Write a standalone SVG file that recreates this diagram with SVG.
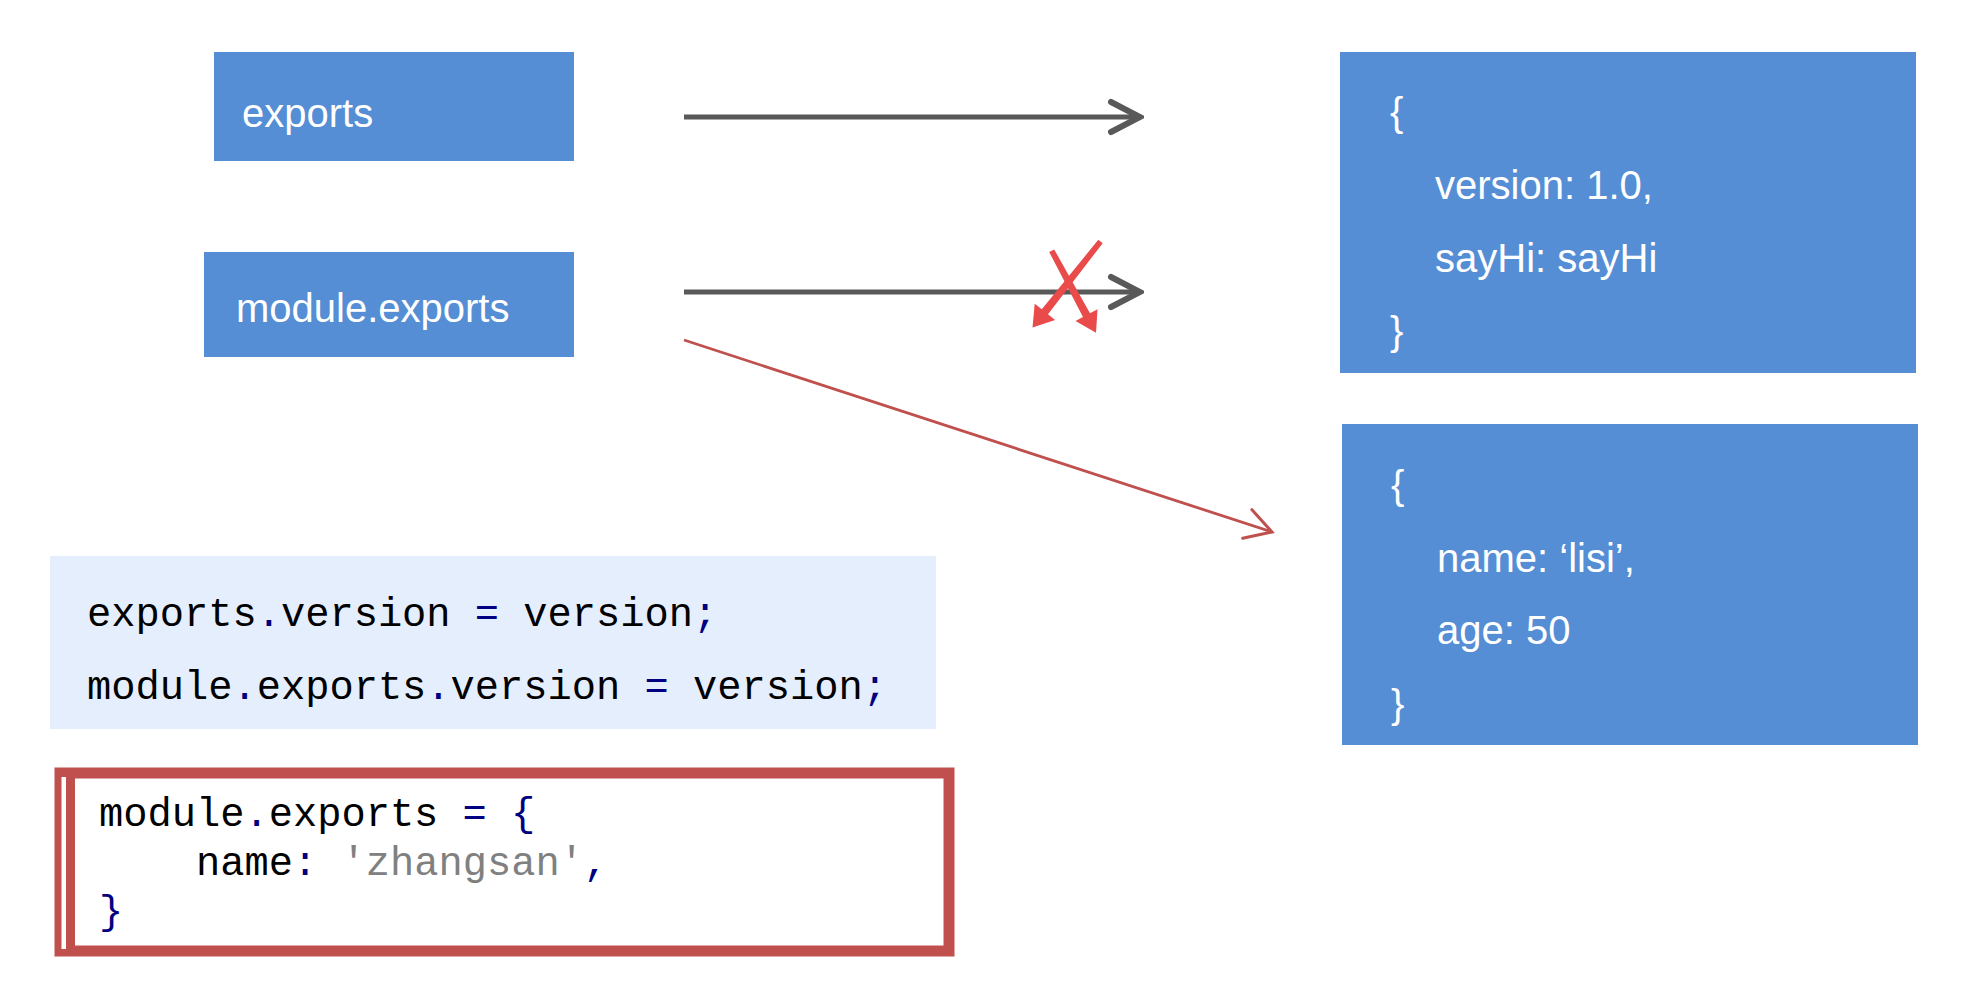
<svg xmlns="http://www.w3.org/2000/svg" width="1986" height="1002" viewBox="0 0 1986 1002">
<style>
.box{fill:#558ED5}
.lbl{font-family:"Liberation Sans",Arial,sans-serif;font-size:40px;fill:#FFFFFF}
.code{font-family:"Liberation Mono","Courier New",monospace;font-size:40.4px;fill:#000000}
.p{fill:#000080}
.s{fill:#808080}
.garrow{stroke:#595959;stroke-width:5;fill:none}
.rarrow{stroke:#C0504D;stroke-width:2.8;fill:none}
.xmark{fill:#E94B4B}
</style>
<defs>
<marker id="gHead" markerUnits="userSpaceOnUse" viewBox="-36 -20 40 40" markerWidth="40" markerHeight="40" refX="0" refY="0" orient="auto">
<path d="M-29,-15 L0,0 L-29,15" fill="none" stroke="#595959" stroke-width="6" stroke-linecap="round" stroke-linejoin="miter"/>
</marker>
<marker id="rHead" markerUnits="userSpaceOnUse" viewBox="-32 -20 36 40" markerWidth="36" markerHeight="40" refX="0" refY="0" orient="auto">
<path d="M-26,-15 L0,0 L-26,15" fill="none" stroke="#C0504D" stroke-width="3" stroke-linecap="round"/>
</marker>
</defs>
<rect width="1986" height="1002" fill="#FFFFFF"/>

<g id="node-exports">
<rect class="box" x="214" y="52" width="360" height="109"/>
<text class="lbl" x="242" y="127">exports</text>
</g>

<g id="node-module-exports">
<rect class="box" x="204" y="252" width="370" height="105"/>
<text class="lbl" x="236" y="322">module.exports</text>
</g>

<g id="node-object-1">
<rect class="box" x="1340" y="52" width="576" height="321"/>
<text class="lbl" x="1390" y="126">{</text>
<text class="lbl" x="1435" y="199">version: 1.0,</text>
<text class="lbl" x="1435" y="272">sayHi: sayHi</text>
<text class="lbl" x="1390" y="345">}</text>
</g>

<g id="node-object-2">
<rect class="box" x="1342" y="424" width="576" height="321"/>
<text class="lbl" x="1391" y="499">{</text>
<text class="lbl" x="1437" y="572">name: ‘lisi’,</text>
<text class="lbl" x="1437" y="644">age: 50</text>
<text class="lbl" x="1391" y="718">}</text>
</g>

<g id="node-code-1">
<rect x="50" y="556" width="886" height="173" fill="#E5EEFC"/>
<text class="code" x="87" y="626">exports<tspan class="p">.</tspan>version <tspan class="p">=</tspan> version<tspan class="p">;</tspan></text>
<text class="code" x="87" y="699">module<tspan class="p">.</tspan>exports<tspan class="p">.</tspan>version <tspan class="p">=</tspan> version<tspan class="p">;</tspan></text>
</g>

<g id="node-code-2">
<rect x="60" y="773" width="889" height="178" fill="#FFFFFF" stroke="#C0504D" stroke-width="11"/>
<rect x="61.5" y="777" width="4.5" height="172" fill="#FFFFFF"/>
<rect x="66" y="773" width="9" height="178" fill="#C0504D"/>
<text class="code" x="99" y="826">module<tspan class="p">.</tspan>exports <tspan class="p">=</tspan> <tspan class="p">{</tspan></text>
<text class="code" x="196" y="875">name<tspan class="p">:</tspan> <tspan class="s">'zhangsan'</tspan><tspan class="p">,</tspan></text>
<text class="code" x="99" y="924"><tspan class="p">}</tspan></text>
</g>

<g id="connectors">
<line class="garrow" x1="684" y1="117" x2="1140" y2="117" marker-end="url(#gHead)"/>
<line class="garrow" x1="684" y1="292" x2="1140" y2="292" marker-end="url(#gHead)"/>
<line class="rarrow" x1="684" y1="340" x2="1272" y2="532" marker-end="url(#rHead)"/>
<g id="cross-mark">
<polygon class="xmark" points="1102.7,243.2 1048.0,314.3 1055.1,319.9 1032.5,327.5 1034.7,303.7 1041.8,309.3 1098.3,239.8"/>
<polygon class="xmark" points="1054.2,249.4 1090.0,313.2 1097.5,309.2 1096,332.7 1075.5,321.0 1083.0,317.0 1049.2,252.0"/>
</g>
</g>
</svg>
